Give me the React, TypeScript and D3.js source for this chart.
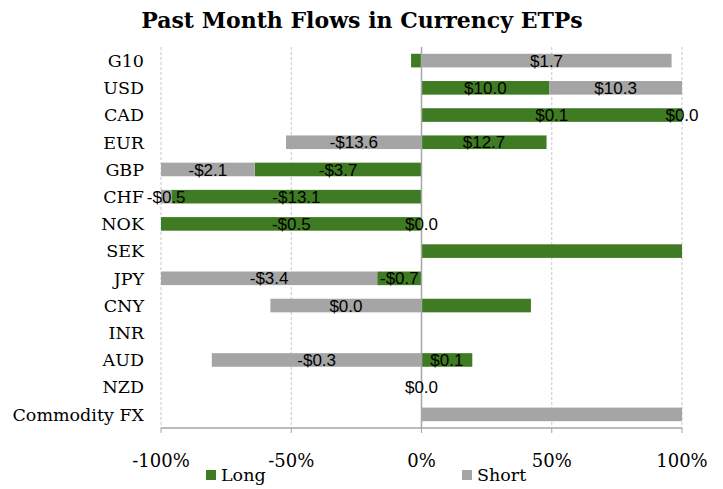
import { useMemo } from 'react'
import * as d3 from 'd3'

const categories = ['G10', 'USD', 'CAD', 'EUR', 'GBP', 'CHF', 'NOK', 'SEK', 'JPY', 'CNY', 'INR', 'AUD', 'NZD', 'Commodity FX']

// share of total flow, in percent (sign = direction)
const longShare = [-4, 49, 100, 48, -64, -96, -100, 100, -17, 42, 0, 19.5, 0, 0]
const shortShare = [96, 51, 0, -52, -36, -4, 0, 0, -83, -58, 0, -80.5, 0, 100]

const longLabels = ['', '$10.0', '$0.1', '$12.7', '-$3.7', '-$13.1', '-$0.5', '', '-$0.7', '', '', '$0.1', '', '']
const shortLabels = ['$1.7', '$10.3', '$0.0', '-$13.6', '-$2.1', '-$0.5', '$0.0', '', '-$3.4', '$0.0', '', '-$0.3', '$0.0', '']

const xTicks = [-100, -50, 0, 50, 100]

const seriesNames = ['Long', 'Short']
const colors: Record<string, string> = { Long: '#3e7b22', Short: '#a5a5a5' }

type Seg = { cat: string; series: string; x0: number; x1: number; label: string }

const width = 723
const height = 489
const margin = { top: 47, right: 41, bottom: 61, left: 161 }

const serif = "'DejaVu Serif', Georgia, serif"
const sans = "'Liberation Sans', Arial, sans-serif"

const App = () => {
  const x = d3.scaleLinear().domain([-100, 100]).range([margin.left, width - margin.right])
  const y = d3
    .scaleBand<string>()
    .domain(categories)
    .range([margin.top, height - margin.bottom])
    .paddingInner(0.5)
    .paddingOuter(0.25)

  // excel-style stacking: zeros and positives grow right, negatives grow left
  const segs = useMemo(() => {
    const out: Seg[] = []
    categories.forEach((cat, i) => {
      let pos = 0
      let neg = 0
      const vals = [longShare[i], shortShare[i]]
      const labs = [longLabels[i], shortLabels[i]]
      vals.forEach((v, j) => {
        if (v >= 0) {
          out.push({ cat, series: seriesNames[j], x0: pos, x1: pos + v, label: labs[j] })
          pos += v
        } else {
          out.push({ cat, series: seriesNames[j], x0: neg + v, x1: neg, label: labs[j] })
          neg += v
        }
      })
    })
    return out
  }, [])

  const bottom = height - margin.bottom
  const bh = y.bandwidth()

  return (
    <svg width={width} height={height} style={{ display: 'block', position: 'absolute', left: 0, top: 0 }}>
      <rect width={width} height={height} fill="#fff" />
      <text x={362} y={28} textAnchor="middle" fontFamily={serif} fontWeight="bold" fontSize={22} fill="#000">
        Past Month Flows in Currency ETPs
      </text>

      {xTicks.filter((t) => t !== 0).map((t) => (
        <line key={t} x1={x(t)} x2={x(t)} y1={margin.top} y2={bottom} stroke="#c8c8c8" strokeDasharray="3,2" />
      ))}

      {segs.map((s, i) => (
        <rect
          key={i}
          x={x(s.x0)}
          width={x(s.x1) - x(s.x0)}
          y={y(s.cat)!}
          height={bh}
          fill={colors[s.series]}
        />
      ))}

      <line x1={x(0)} x2={x(0)} y1={margin.top} y2={bottom} stroke="#a6a6a6" strokeWidth={1.5} />
      <line x1={x(-100)} x2={x(100)} y1={bottom} y2={bottom} stroke="#a6a6a6" strokeWidth={1.5} />
      {xTicks.map((t) => (
        <line key={t} x1={x(t)} x2={x(t)} y1={bottom} y2={bottom + 5} stroke="#a6a6a6" />
      ))}

      {segs.filter((s) => s.label).map((s, i) => (
        <text
          key={i}
          x={(x(s.x0) + x(s.x1)) / 2}
          y={y(s.cat)! + bh / 2}
          dy="0.36em"
          textAnchor="middle"
          fontFamily={sans}
          fontSize={17}
          fill="#000"
        >
          {s.label}
        </text>
      ))}

      {categories.map((c) => (
        <text
          key={c}
          x={144}
          y={y(c)! + bh / 2}
          dy="0.36em"
          textAnchor="end"
          fontFamily={serif}
          fontSize={17.5}
          fill="#000"
        >
          {c}
        </text>
      ))}

      {xTicks.map((t) => (
        <text key={t} x={x(t)} y={467} textAnchor="middle" fontFamily={serif} fontSize={18} fill="#000">
          {`${t}%`}
        </text>
      ))}

      {seriesNames.map((n, i) => (
        <g key={n} transform={`translate(${i === 0 ? 206 : 462},470)`}>
          <rect width={10} height={10} fill={colors[n]} />
          <text x={15} y={11} fontFamily={serif} fontSize={17.5} fill="#000">
            {n}
          </text>
        </g>
      ))}
    </svg>
  )
}

export default App
